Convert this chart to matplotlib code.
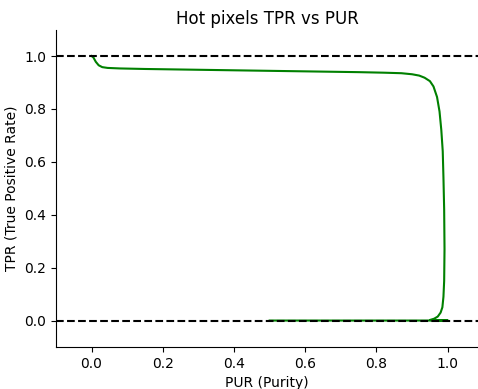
import matplotlib
matplotlib.use('Agg')
import matplotlib.pyplot as plt

# Curve (PUR, TPR)
pur = [0.0, 0.005, 0.012, 0.02, 0.03, 0.045, 0.08, 0.15, 0.25, 0.35, 0.45, 0.55,
       0.65, 0.75, 0.82, 0.87, 0.90, 0.92, 0.935, 0.95, 0.96, 0.97, 0.977, 0.982,
       0.986, 0.988, 0.990, 0.991, 0.990, 0.988, 0.985, 0.980, 0.972, 0.962,
       0.950, 0.975, 1.0, 0.8, 0.5]
tpr = [1.0, 0.995, 0.978, 0.965, 0.958, 0.955, 0.953, 0.951, 0.949, 0.947, 0.945,
       0.943, 0.941, 0.939, 0.937, 0.935, 0.931, 0.926, 0.918, 0.905, 0.885,
       0.845, 0.79, 0.72, 0.64, 0.54, 0.42, 0.27, 0.15, 0.09, 0.05, 0.03,
       0.015, 0.007, 0.002, 0.0, 0.0, 0.0, 0.0]

fig = plt.figure(figsize=(4.78, 3.89), dpi=100)
ax = fig.add_axes([0.117, 0.108, 0.883, 0.816])

ax.plot(pur, tpr, color='green', linewidth=1.5)
ax.axhline(1.0, color='black', linestyle='--', linewidth=1.5)
ax.axhline(0.0, color='black', linestyle='--', linewidth=1.5)

ax.set_xlim(-0.1, 1.085)
ax.set_ylim(-0.1, 1.1)
ax.set_xticks([0.0, 0.2, 0.4, 0.6, 0.8, 1.0])
ax.set_yticks([0.0, 0.2, 0.4, 0.6, 0.8, 1.0])
ax.spines['top'].set_visible(False)
ax.spines['right'].set_visible(False)

ax.set_title('Hot pixels TPR vs PUR', pad=4)
ax.set_xlabel('PUR (Purity)')
ax.set_ylabel('TPR (True Positive Rate)')

fig.savefig('out.png', dpi=100)
